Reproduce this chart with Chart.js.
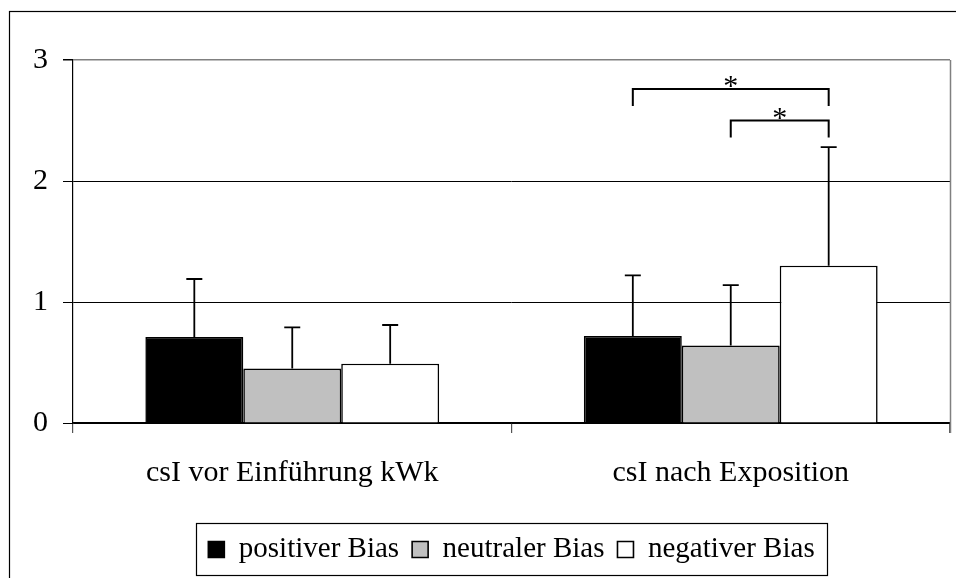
<!DOCTYPE html>
<html>
<head>
<meta charset="utf-8">
<script src="https://cdn.jsdelivr.net/npm/chart.js@4"></script>
<style>
  body { margin: 0; background: #fff; }
  canvas { display: block; }
</style>
</head>
<body>
<canvas id="myChart" width="956" height="578"></canvas>
<script>
const categories = ["csI vor Einführung kWk", "csI nach Exposition"];
const seriesNames = ["positiver Bias", "neutraler Bias", "negativer Bias"];
const positiverBias = [0.71, 0.72];
const neutralerBias = [0.45, 0.64];
const negativerBias = [0.49, 1.30];
const positiverSd = [0.48, 0.50];
const neutralerSd = [0.34, 0.50];
const negativerSd = [0.32, 0.98];
const yTicks = [0, 1, 2, 3];

// significance brackets, all in the second category
const bracketCategory = 1;
const bracketFrom = [0, 1];
const bracketTo = [2, 2];
const bracketTop = [2.76, 2.50];
const bracketLeg = [2.62, 2.36];
const bracketLabel = ["*", "*"];

const FONT = "'Liberation Serif', 'Times New Roman', serif";
const errors = [positiverSd, neutralerSd, negativerSd];

const frame = {
  id: "frame",
  beforeDraw(chart) {
    const c = chart.ctx;
    c.save();
    c.fillStyle = "#fff";
    c.fillRect(0, 0, chart.width, chart.height);
    c.strokeStyle = "#000";
    c.lineWidth = 1.2;
    c.strokeRect(9.5, 11.5, 1000, 1000);
    c.restore();
  },
  afterDraw(chart) {
    const c = chart.ctx;
    const a = chart.chartArea;
    c.save();
    // right border of the plot area
    c.strokeStyle = "#808080";
    c.lineWidth = 1.5;
    c.beginPath();
    c.moveTo(Math.round(a.right) + 0.5, a.top);
    c.lineTo(Math.round(a.right) + 0.5, a.bottom + 10);
    c.stroke();
    // legend border
    const hb = chart.legend.legendHitBoxes;
    if (hb && hb.length) {
      const first = hb[0];
      const last = hb[hb.length - 1];
      const left = Math.round(first.left - 12) + 0.5;
      const right = Math.round(last.left + last.width + 12) + 0.5;
      const top = 523.5;
      const bottom = 575.5;
      c.strokeStyle = "#000";
      c.lineWidth = 1.2;
      c.strokeRect(left, top, right - left, bottom - top);
    }
    c.restore();
  }
};

const errorBars = {
  id: "errorBars",
  afterDatasetsDraw(chart) {
    const c = chart.ctx;
    const y = chart.scales.y;
    c.save();
    c.strokeStyle = "#000";
    c.lineWidth = 1.8;
    chart.data.datasets.forEach((ds, i) => {
      const meta = chart.getDatasetMeta(i);
      meta.data.forEach((bar, j) => {
        const top = y.getPixelForValue(ds.data[j] + errors[i][j]);
        c.beginPath();
        c.moveTo(bar.x, bar.y);
        c.lineTo(bar.x, top);
        c.moveTo(bar.x - 8, top);
        c.lineTo(bar.x + 8, top);
        c.stroke();
      });
    });

    // brackets
    c.lineWidth = 2;
    c.fillStyle = "#000";
    c.font = "30px " + FONT;
    c.textAlign = "center";
    c.textBaseline = "alphabetic";
    bracketTop.forEach((lvl, k) => {
      const x1 = chart.getDatasetMeta(bracketFrom[k]).data[bracketCategory].x;
      const x2 = chart.getDatasetMeta(bracketTo[k]).data[bracketCategory].x;
      const yt = y.getPixelForValue(lvl);
      const yl = y.getPixelForValue(bracketLeg[k]);
      c.beginPath();
      c.moveTo(x1, yl);
      c.lineTo(x1, yt);
      c.lineTo(x2, yt);
      c.lineTo(x2, yl);
      c.stroke();
      c.fillText(bracketLabel[k], (x1 + x2) / 2, yt + 6);
    });
    c.restore();
  }
};

const ctx = document.getElementById("myChart").getContext("2d");
const chart = new Chart(ctx, {
  type: "bar",
  data: {
    labels: categories,
    datasets: [
      {
        label: seriesNames[0],
        data: positiverBias,
        backgroundColor: "#000000",
        borderColor: "#000000",
        borderWidth: 1.6
      },
      {
        label: seriesNames[1],
        data: neutralerBias,
        backgroundColor: "#c0c0c0",
        borderColor: "#000000",
        borderWidth: 1.6
      },
      {
        label: seriesNames[2],
        data: negativerBias,
        backgroundColor: "#ffffff",
        borderColor: "#000000",
        borderWidth: 1.6
      }
    ]
  },
  options: {
    responsive: false,
    animation: false,
    layout: { padding: { left: 0, top: 60, right: 6, bottom: 4 } },
    datasets: {
      bar: { categoryPercentage: 0.67, barPercentage: 1 }
    },
    plugins: {
      tooltip: { enabled: false },
      legend: {
        position: "bottom",
        fullSize: false,
        labels: {
          color: "#000",
          font: { family: FONT, size: 29 },
          boxWidth: 16,
          boxHeight: 16,
          padding: 13
        }
      }
    },
    scales: {
      x: {
        afterFit(scale) { scale.height = 99; },
        grid: {
          offset: true,
          drawOnChartArea: false,
          drawTicks: true,
          tickLength: 10,
          color: "#555",
          lineWidth: 1.2
        },
        border: { color: "#000", width: 1.2 },
        ticks: {
          color: "#000",
          padding: 22,
          font: { family: FONT, size: 30 }
        }
      },
      y: {
        min: 0,
        max: 3,
        afterFit(scale) { scale.width = 73; },
        afterBuildTicks(scale) { scale.ticks = yTicks.map(v => ({ value: v })); },
        grid: {
          color: c => (c.tick && c.tick.value === 3 ? "#808080" : "#000"),
          tickColor: "#000",
          lineWidth: c => (c.tick && c.tick.value === 3 ? 1.5 : 1),
          tickLength: 10
        },
        border: { color: "#000", width: 1.2 },
        ticks: {
          color: "#000",
          padding: 15,
          font: { family: FONT, size: 30 }
        }
      }
    }
  },
  plugins: [frame, errorBars]
});
</script>
</body>
</html>
